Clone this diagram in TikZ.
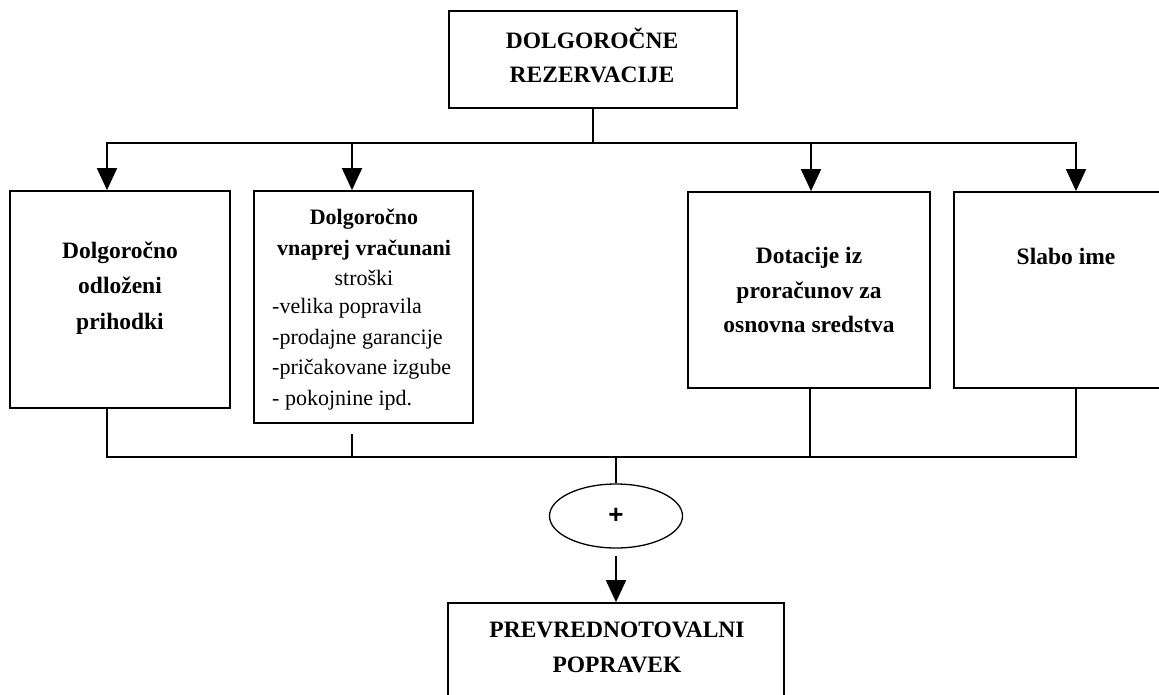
\documentclass[tikz,border=0pt]{standalone}
\usepackage{fontspec}
\setmainfont{Liberation Serif}
\newfontfamily\plusfont{Liberation Sans}
\usetikzlibrary{arrows.meta,shapes.geometric}

\tikzset{
  box/.style={draw, line width=1.8pt, rectangle, inner sep=0pt},
  btxt/.style={align=center, inner sep=0pt,
    font=\fontsize{23.5}{35}\selectfont\bfseries},
  ltxt/.style={align=left, inner sep=0pt,
    font=\fontsize{22}{30.5}\selectfont},
  link/.style={line width=1.8pt},
  arr/.style={line width=1.8pt, -{Triangle[width=20pt,length=22pt]}},
}

\begin{document}
\begin{tikzpicture}[x=1pt, y=-1pt]
\useasboundingbox (0,0) rectangle (1159,694);
\clip (0,0) rectangle (1159,694);

% top box
\node[box, minimum width=288pt, minimum height=97pt] (top) at (593,59.5) {};
\node[btxt, font=\fontsize{23.5}{34}\selectfont\bfseries] (toptxt) at (592,55)
  {DOLGOROČNE\\REZERVACIJE};

% the four kinds of reservations
\node[box, minimum width=220pt, minimum height=217pt] (b1) at (120,299.5) {};
\node[btxt, font=\fontsize{23.5}{35.5}\selectfont\bfseries] (b1txt) at (120,288)
  {Dolgoročno\\odloženi\\prihodki};

\node[box, minimum width=219pt, minimum height=232pt] (b2) at (363.5,307) {};
\node[align=center, inner sep=0pt, font=\fontsize{22}{30.5}\selectfont] (b2head) at (364,247.5)
  {\textbf{Dolgoročno}\\\textbf{vnaprej vračunani}\\stroški};
\node[ltxt, anchor=west] (b2list) at (272,354)
  {-velika popravila\\-prodajne garancije\\-pričakovane izgube\\- pokojnine ipd.};

\node[box, minimum width=242pt, minimum height=196pt] (b3) at (809,290) {};
\node[btxt, font=\fontsize{23.5}{34.5}\selectfont\bfseries] (b3txt) at (809,290)
  {Dotacije iz\\proračunov za\\osnovna sredstva};

% this box runs on past the right edge
\node[box, minimum width=300pt, minimum height=196pt] (b4) at (1104,290) {};
\node[btxt] (b4txt) at (1066,256) {Slabo ime};

% sum and result
\node[draw, ellipse, line width=1.3pt, minimum width=133pt, minimum height=64pt,
      inner sep=0pt] (plus) at (616,516)
  {\plusfont\bfseries\fontsize{26}{26}\selectfont +};

\node[box, minimum width=336pt, minimum height=117pt] (res) at (616,661.5) {};
\node[btxt, font=\fontsize{23.5}{35}\selectfont\bfseries] (restxt) at (617,647.5)
  {PREVREDNOTOVALNI\\POPRAVEK};

% distribution from the top box
\coordinate (hub) at (593,143);
\draw[link] (top.south) -- (hub);
\draw[arr] (hub) -| ([xshift=-13pt]b1.north);
\draw[arr] (hub) -| ([xshift=-11.5pt]b2.north);
\draw[arr] (hub) -| ([xshift=2pt]b3.north);
\draw[arr] (hub) -| ([xshift=-28pt]b4.north);

% collection into the sum
\coordinate (join) at (616,457);
\draw[link] ([xshift=-13pt]b1.south) |- (join);
\draw[link] ([xshift=-11.5pt,yshift=-10pt]b2.south) |- (join);
\draw[link] ([xshift=1pt]b3.south) |- (join);
\draw[link] ([xshift=-28pt]b4.south) |- (join);
\draw[link] (join) -- (plus.north);
\draw[arr] ([yshift=-7pt]plus.south) -- (res.north);
\end{tikzpicture}
\end{document}
